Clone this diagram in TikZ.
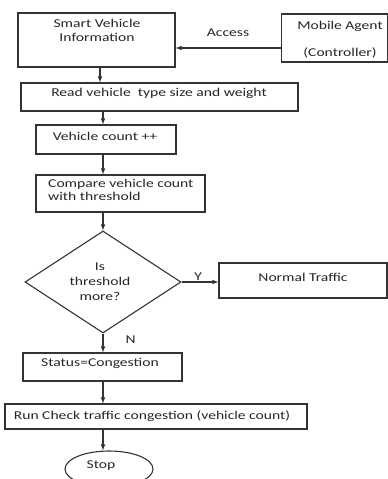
\documentclass[tikz,border=0pt]{standalone}
\usepackage{fontspec}
\setmainfont[FakeStretch=1.3]{Carlito}
\usetikzlibrary{positioning,shapes.geometric,arrows}

\begin{document}
\begin{tikzpicture}[x=1pt,y=-1pt,>=latex,
		box/.style={draw=black!80,line width=1.1pt,inner sep=0pt},
		txt/.style={font=\fontsize{12}{13.5}\selectfont,text=black!85,align=center,inner sep=0pt},
		flow/.style={draw=black!80,line width=1.1pt,->}]
		\useasboundingbox (0,0) rectangle (388,479);

		% Boxes
		\node[box,minimum width=157pt,minimum height=54pt] (svi) at (96.5,40) {};
		\node[txt] at (97,30.5) {Smart Vehicle\\Information};
		\node[box,minimum width=106.5pt,minimum height=48pt] (agent) at (334.5,38) {};
		\node[txt] at (340,26) {Mobile Agent};
		\node[txt] at (340,53) {(Controller)};
		\node[box,minimum width=277pt,minimum height=28pt] (read) at (159.5,97) {};
		\node[txt] at (159,93) {Read vehicle\ \ type size and weight};
		\node[box,minimum width=140pt,minimum height=29pt] (count) at (106,139.5) {};
		\node[txt] at (105,136) {Vehicle count ++};
		\node[box,minimum width=169pt,minimum height=37pt] (cmp) at (120.5,193.5) {};
		\node[txt,align=left,anchor=west] at (48,190) {Compare vehicle count\\with threshold};

		% Decision
		\node[box,diamond,minimum width=156pt,minimum height=102pt,aspect=1.53] (dec) at (103,282) {};
		\node[txt,font=\fontsize{12}{15}\selectfont] at (100,282) {Is\\threshold\\more?};
		\node[box,minimum width=168pt,minimum height=35pt] (normal) at (303,280.5) {};
		\node[txt] at (303,277) {Normal Traffic};

		\node[box,minimum width=159pt,minimum height=28pt] (status) at (102.5,367) {};
		\node[txt] at (100,363.5) {Status=Congestion};
		\node[box,minimum width=302pt,minimum height=25pt] (run) at (156,416.5) {};
		\node[txt] at (152,416) {Run Check traffic congestion (vehicle count)};
		\node[box,ellipse,minimum width=88pt,minimum height=36pt] (stop) at (109,469) {};
		\node[txt] at (101,466) {Stop};

		% Arrows
		\coordinate (acc) at (agent.west |- 0,48);
		\draw[flow] (acc) -- (svi.east |- acc);
		\node[txt] (access) at (228,33) {Access};
		\draw[flow] (100,0 |- svi.south) -- (100,0 |- read.north);
		\draw[flow] (103,0 |- read.south) -- (103,0 |- count.north);
		\draw[flow] (103,0 |- count.south) -- (103,0 |- cmp.north);
		\draw[flow] (cmp.south -| dec.north) -- (dec.north);
		\draw[flow] (dec.east) -- (normal.west |- dec.east) node[txt,pos=0.45,above=1pt] {Y};
		\draw[flow] (dec.south) -- (dec.south |- status.north) node[txt,pos=0.3,right=22pt] {N};
		\draw[flow] (status.south -| dec.south) -- (dec.south |- run.north);
		\draw[flow] (run.south -| dec.south) -- (dec.south |- stop.north);
	\end{tikzpicture}
\end{document}
